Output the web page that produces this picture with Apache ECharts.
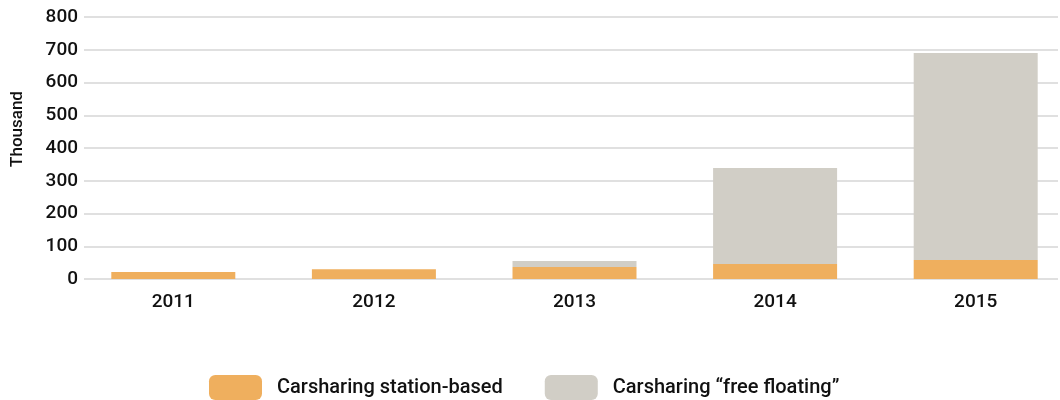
<!DOCTYPE html>
<html>
<head>
<meta charset="utf-8">
<script src="https://cdn.jsdelivr.net/npm/echarts@6/dist/echarts.min.js"></script>
<style>
  html, body { margin: 0; padding: 0; background: #fff; }
  #chart { width: 1060px; height: 400px; }
</style>
</head>
<body>
<div id="chart"></div>
<script>
const years = ["2011", "2012", "2013", "2014", "2015"];
const stationBased = [21, 30, 37, 46, 58];
const freeFloating = [0, 0, 18, 293, 632];
const seriesNames = ["Carsharing station-based", "Carsharing \u201cfree floating\u201d"];

const chart = echarts.init(document.getElementById("chart"));
const font = "Roboto, 'DejaVu Sans', sans-serif";
const textColor = "#111";

// grid 0 carries the value axis and gridlines, grid 1 the bars (slightly wider band spacing)
chart.setOption({
  animation: false,
  backgroundColor: "#fff",
  grid: [
    { left: 84, right: 2, top: 17, bottom: 121, outerBoundsMode: "none" },
    { left: 73, right: -16, top: 17, bottom: 121, outerBoundsMode: "none" }
  ],
  legend: {
    bottom: -5,
    left: 204,
    itemWidth: 53,
    itemHeight: 25,
    itemGap: 42,
    icon: "roundRect",
    textStyle: { fontFamily: font, fontSize: 20, fontWeight: 500, color: textColor, padding: [0, 0, 0, 10] },
    data: seriesNames
  },
  xAxis: [
    {
      type: "category",
      gridIndex: 0,
      data: years,
      show: false
    },
    {
      type: "category",
      gridIndex: 1,
      data: years,
      axisLine: { show: false },
      axisTick: { show: false },
      axisLabel: { fontFamily: font, fontSize: 19, fontWeight: 500, color: textColor, margin: 14 }
    }
  ],
  yAxis: [
    {
      type: "value",
      gridIndex: 0,
      min: 0,
      max: 800,
      interval: 100,
      name: "Thousand",
      nameLocation: "middle",
      nameGap: 58,
      nameTextStyle: { fontFamily: font, fontSize: 17, fontWeight: 500, color: textColor, padding: [0, 0, 0, 38] },
      axisLine: { show: false },
      axisTick: { show: false },
      axisLabel: { fontFamily: font, fontSize: 19, fontWeight: 500, color: textColor, margin: 6 },
      splitLine: { lineStyle: { color: "#e0e0e0", width: 2 } }
    },
    {
      type: "value",
      gridIndex: 1,
      min: 0,
      max: 800,
      interval: 100,
      show: false,
      splitLine: { show: false }
    }
  ],
  series: [
    {
      name: seriesNames[0],
      type: "bar",
      xAxisIndex: 1,
      yAxisIndex: 1,
      stack: "total",
      barWidth: 124,
      itemStyle: { color: "#efaf5e" },
      data: stationBased
    },
    {
      name: seriesNames[1],
      type: "bar",
      xAxisIndex: 1,
      yAxisIndex: 1,
      stack: "total",
      barWidth: 124,
      itemStyle: { color: "#d1cec6" },
      data: freeFloating
    }
  ]
});
</script>
</body>
</html>
